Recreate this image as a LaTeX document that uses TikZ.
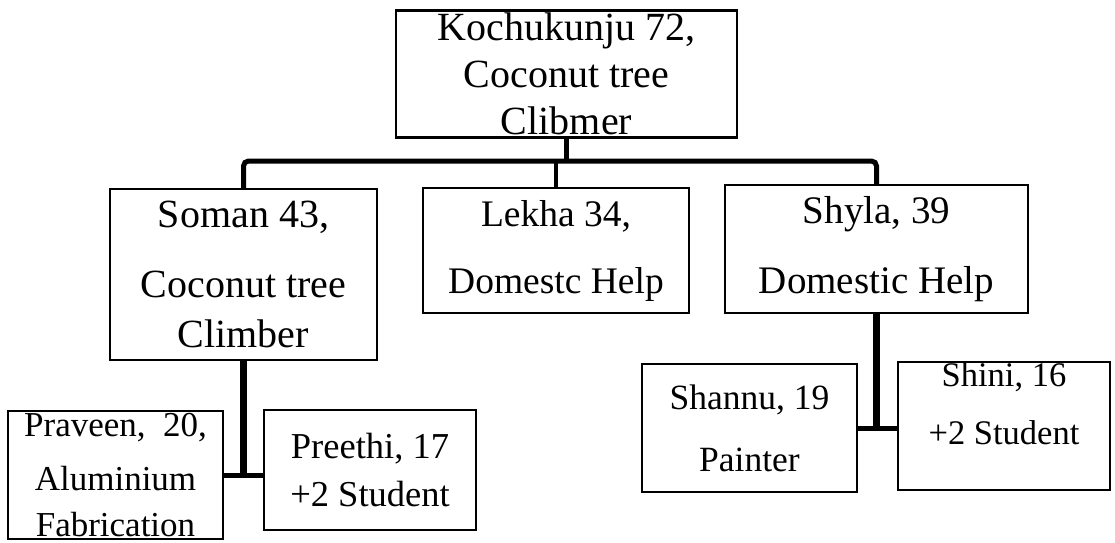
\documentclass[tikz,border=0pt]{standalone}
\usepackage{fontspec}
\setmainfont{Liberation Serif}
\usepackage{tikz}

\begin{document}
\begin{tikzpicture}[x=1pt,y=-1pt]
    \tikzstyle{box}=[draw=black, line width=2.4pt, rectangle, inner sep=0pt, align=center, text=black]
    \tikzstyle{link}=[draw=black, line width=5pt]
    \tikzstyle{drop}=[draw=black, line width=7pt]

    \useasboundingbox (0,0) rectangle (1115,542);

    \node[box, minimum width=341pt, minimum height=127pt, font=\fontsize{40}{47}\selectfont] (kochu) at (566.5,74) {Kochukunju 72,\\Coconut tree\\Clibmer};
    \node[box, minimum width=267pt, minimum height=171pt, font=\fontsize{40}{50}\selectfont] (soman) at (243.5,274.5) {Soman 43,\\[20pt]Coconut tree\\Climber};
    \node[box, minimum width=266pt, minimum height=125pt, font=\fontsize{37.5}{67}\selectfont] (lekha) at (556,250.5) {Lekha 34,\\Domestc Help};
    \node[box, minimum width=303pt, minimum height=128pt, font=\fontsize{39}{70}\selectfont] (shyla) at (876.5,249) {Shyla, 39\\Domestic Help};
    \node[box, minimum width=215pt, minimum height=128pt, font=\fontsize{35}{46}\selectfont] (praveen) at (115.5,475) {Praveen, \ 20,\\[8pt]Aluminium\\Fabrication};
    \node[box, minimum width=212pt, minimum height=120pt, font=\fontsize{36.5}{48}\selectfont] (preethi) at (370,470) {Preethi, 17\\+2 Student};
    \node[box, minimum width=215pt, minimum height=128pt, font=\fontsize{35.5}{62}\selectfont] (shannu) at (749.5,428) {Shannu, 19\\Painter};
    \node[box, minimum width=212pt, minimum height=128pt, text depth=44pt, font=\fontsize{34.5}{58}\selectfont] (shini) at (1004,426) {Shini, 16\\+2 Student};

    \coordinate (top) at (566,161);

    % first generation
    \draw[link] (kochu.south) -- (kochu.south |- top);
    \draw[link, rounded corners=5pt] (soman.north) |- (top) -| (shyla.north);
    \draw[link, line width=4pt] (lekha.north) -- (lekha.north |- top);

    % grandchildren
    \draw[drop] (soman.south) -- (soman.south |- praveen.east);
    \draw[link] (praveen.east) -- (praveen.east -| preethi.west);
    \draw[drop] (shyla.south) -- (shyla.south |- shannu.east);
    \draw[link] (shannu.east) -- (shannu.east -| shini.west);
\end{tikzpicture}
\end{document}
